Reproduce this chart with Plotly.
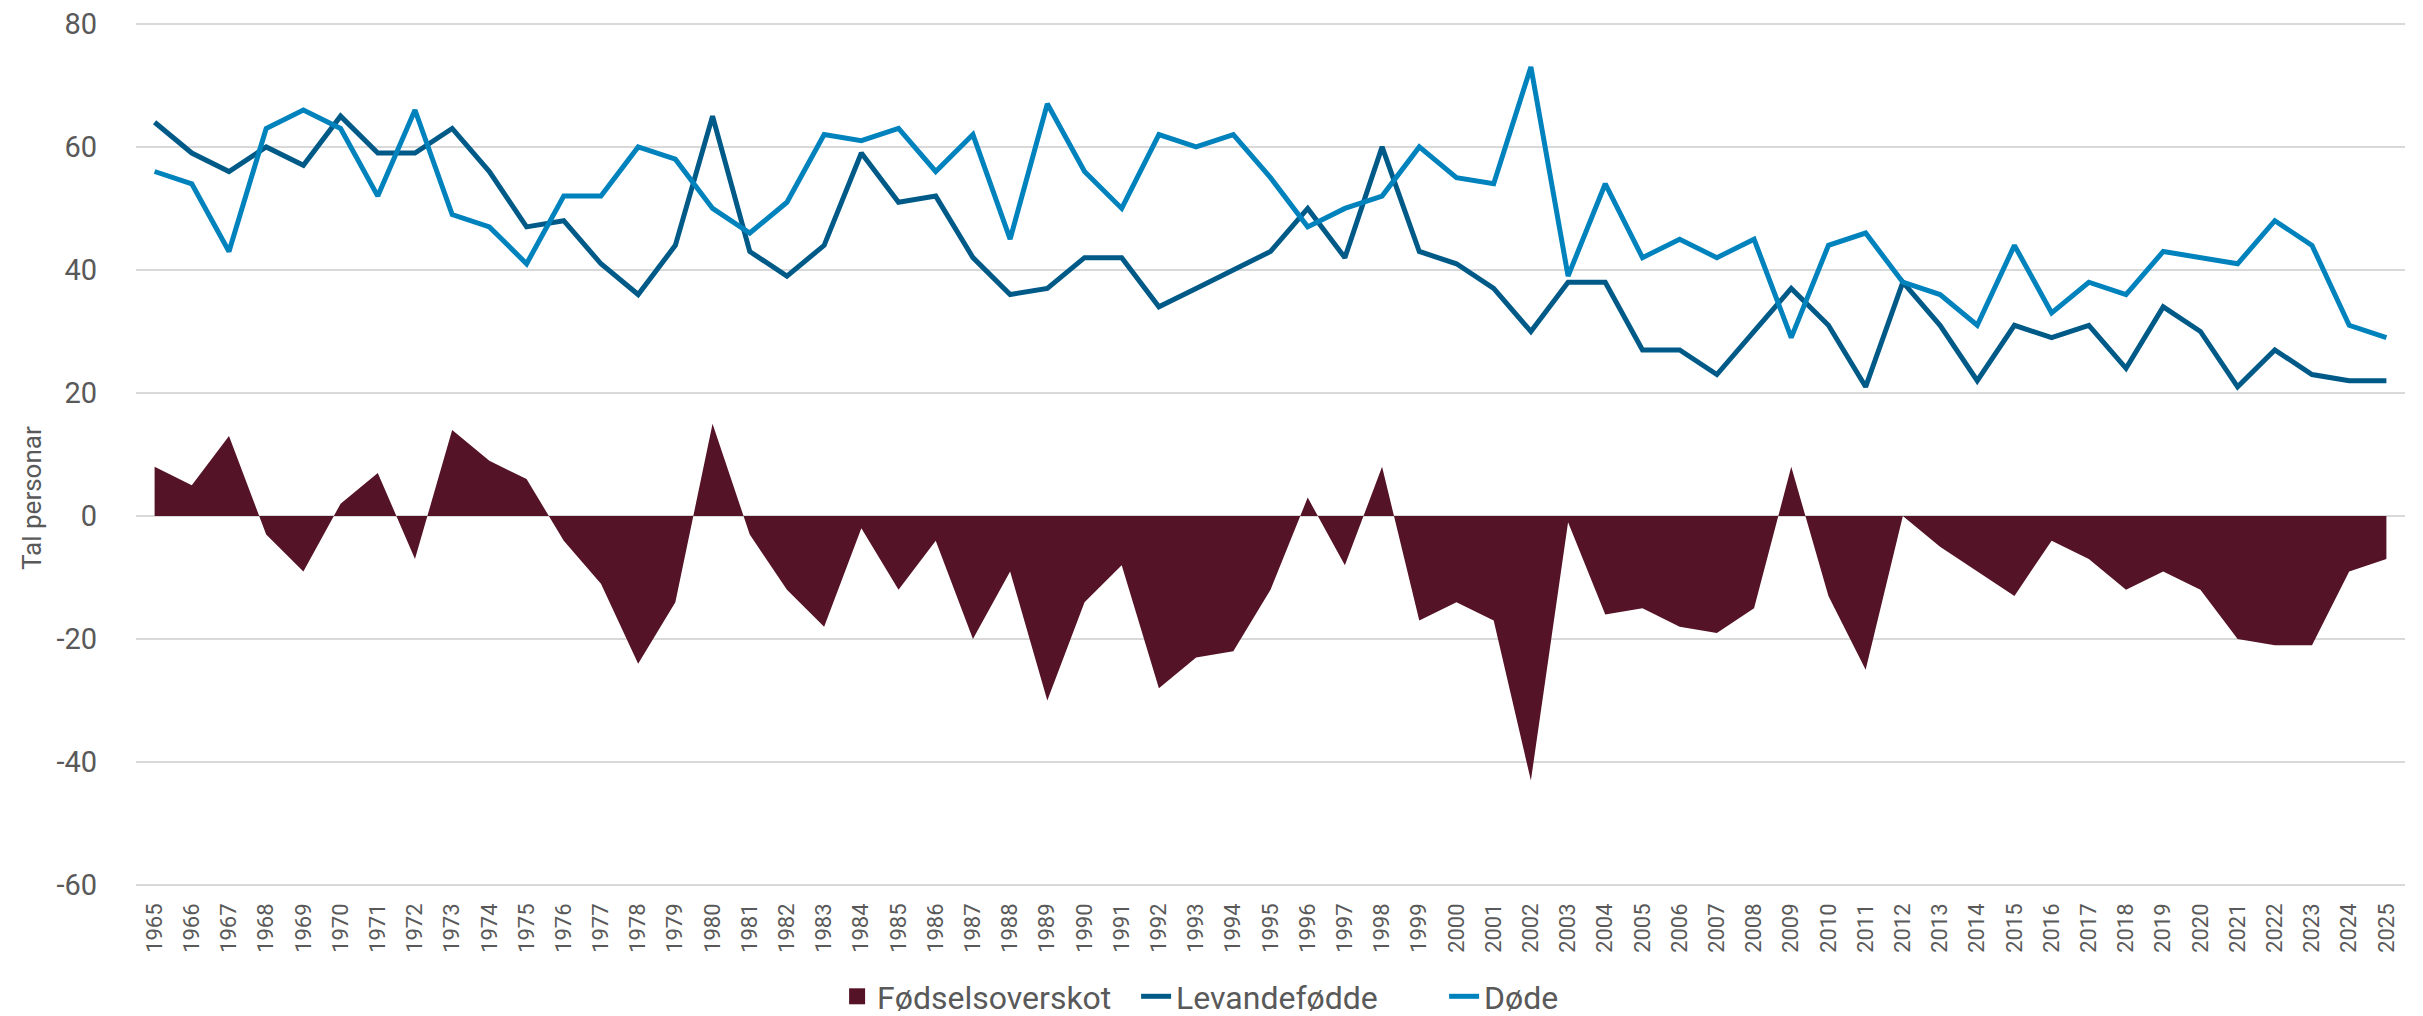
import plotly.graph_objects as go

# ---- data ----
years = [str(y) for y in range(1965, 2026)]

levandefodde = [64, 59, 56, 60, 57, 65, 59, 59, 63, 56, 47, 48, 41,
                36, 44, 65, 43, 39, 44, 59, 51, 52, 42, 36, 37, 42, 42, 34, 37,
                40, 43, 50, 42, 60, 43, 41, 37, 30, 38, 38, 27, 27, 23, 30, 37,
                31, 21, 38, 31, 22, 31, 29, 31, 24, 34, 30, 21, 27, 23, 22, 22]

dode = [56, 54, 43, 63, 66, 63, 52, 66, 49, 47, 41, 52, 52,
        60, 58, 50, 46, 51, 62, 61, 63, 56, 62, 45, 67, 56, 50, 62, 60,
        62, 55, 47, 50, 52, 60, 55, 54, 73, 39, 54, 42, 45, 42, 45, 29,
        44, 46, 38, 36, 31, 44, 33, 38, 36, 43, 42, 41, 48, 44, 31, 29]

fodselsoverskot = [8, 5, 13, -3, -9, 2, 7, -7, 14, 9, 6, -4, -11,
                   -24, -14, 15, -3, -12, -18, -2, -12, -4, -20, -9, -30, -14, -8, -28, -23,
                   -22, -12, 3, -8, 8, -17, -14, -17, -43, -1, -16, -15, -18, -19, -15, 8,
                   -13, -25, 0, -5, -9, -13, -4, -7, -12, -9, -12, -20, -21, -21, -9, -7]

y_ticks = [-60, -40, -20, 0, 20, 40, 60, 80]
y_title = "Tal personar"
names = ["Fødselsoverskot", "Levandefødde", "Døde"]

# ---- styles ----
MAROON = "#551327"
DARK = "#005A88"
LIGHT = "#0082BD"
GRID = "#D9D9D9"
TEXT = "#595959"
FONT = "Roboto, sans-serif"

fig = go.Figure()

fig.add_trace(go.Scatter(
    x=years, y=fodselsoverskot, name=names[0], mode="lines",
    fill="tozeroy", fillcolor=MAROON, line=dict(width=0, color=MAROON),
    showlegend=False, legendgroup="fo", hoverinfo="x+y",
))
# legend entry with square swatch for the area series
fig.add_trace(go.Scatter(
    x=[years[0]], y=[None], name=names[0], mode="markers",
    marker=dict(symbol="square", size=16, color=MAROON),
    legendgroup="fo", showlegend=True, hoverinfo="skip", legendwidth=254,
))
fig.add_trace(go.Scatter(
    x=years, y=levandefodde, name=names[1], mode="lines",
    line=dict(width=5, color=DARK), legendwidth=263,
))
fig.add_trace(go.Scatter(
    x=years, y=dode, name=names[2], mode="lines",
    line=dict(width=5, color=LIGHT),
))

W, H = 2423, 1016
L, R, T, B = 128, 26, 14, 137

fig.update_layout(
    width=W, height=H,
    margin=dict(l=L, r=R, t=T, b=B, autoexpand=False),
    paper_bgcolor="white", plot_bgcolor="white",
    font=dict(family=FONT, color=TEXT),
    showlegend=True,
    legend=dict(
        orientation="h", xref="container", yref="container",
        x=0.4922, xanchor="center", y=0.0, yanchor="bottom",
        font=dict(size=32, color=TEXT, family=FONT),
        itemsizing="trace", traceorder="normal",
        bgcolor="rgba(0,0,0,0)",
    ),
    xaxis=dict(
        type="category", range=[-0.5, len(years) - 0.5],
        tickangle=-90, tickfont=dict(size=22, color=TEXT, family=FONT),
        showgrid=False, zeroline=False, showline=False, ticks="",
        ticklabelstandoff=11, automargin=False, ticklabeloverflow="allow",
    ),
    yaxis=dict(
        range=[-60.3, 80.3], tickvals=y_ticks, ticktext=[str(v) for v in y_ticks],
        tickfont=dict(size=29, color=TEXT, family=FONT),
        showgrid=True, gridcolor=GRID, gridwidth=1.5,
        zeroline=True, zerolinecolor=GRID, zerolinewidth=1.5,
        showline=False, ticks="", ticklabelstandoff=38, automargin=False,
        ticklabeloverflow="allow",
    ),
    annotations=[dict(
        text=y_title, textangle=-90, xref="paper", yref="paper",
        x=(24 - L) / (W - L - R), y=(H - B - 490) / (H - B - T),
        xanchor="center", yanchor="middle", showarrow=False,
        font=dict(size=26, color=TEXT, family=FONT),
    )],
)

fig.write_html("out.html")
